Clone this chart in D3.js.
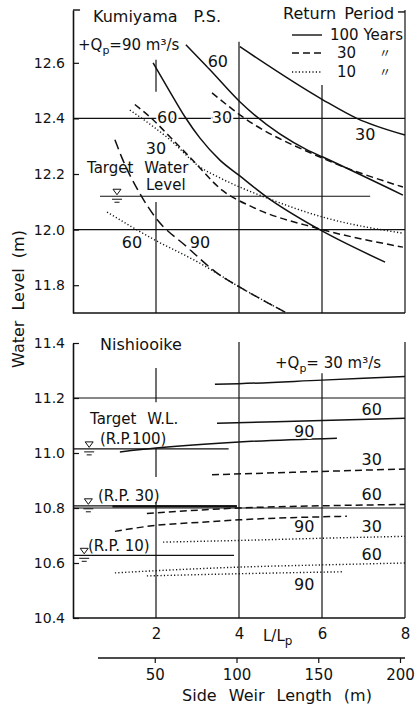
<!DOCTYPE html>
<html>
<head>
<meta charset="utf-8">
<script src="https://cdn.jsdelivr.net/npm/d3@7"></script>
<style>
  body { margin: 0; background: #fff; }
  svg text { font-family: "DejaVu Sans", sans-serif; fill: #111; }
</style>
</head>
<body>
<div id="chart"></div>
<script>
// Axis ticks
const ratioTicks = [2, 4, 6, 8];
const weirTicks = [50, 100, 150, 200];
const kumiTicks = [11.8, 12.0, 12.2, 12.4, 12.6];
const nishiTicks = [10.4, 10.6, 10.8, 11.0, 11.2, 11.4];

// Kumiyama P.S. curves, [L/Lp, water level (m)]
const kumiSolid30 = [[4.02, 12.658], [6.02, 12.467], [6.84, 12.40], [8, 12.34]];
const kumiSolid60 = [[2.72, 12.665], [3.30, 12.575], [4.02, 12.46], [5.64, 12.287], [6.02, 12.261], [7.95, 12.124]];
const kumiSolid90 = [[1.93, 12.6], [2.34, 12.495], [2.70, 12.405], [3.06, 12.329], [3.54, 12.25], [4.02, 12.193], [4.67, 12.117], [5.88, 12.005], [7.52, 11.883]];
const kumiDash30 = [[3.35, 12.492], [3.86, 12.431], [4.02, 12.413], [5.95, 12.261], [7.95, 12.153]];
const kumiDash60 = [[1.49, 12.45], [1.93, 12.395], [2.34, 12.333], [2.82, 12.26], [3.61, 12.14], [4.34, 12.08], [5.88, 12.005], [7.95, 11.937]];
const kumiDash90 = [[1.01, 12.323], [1.18, 12.258], [1.61, 12.13], [1.98, 12.045], [2.75, 11.937], [3.54, 11.836], [4.02, 11.793], [5.11, 11.703]];
const kumiDot30 = [[1.37, 12.43], [2.34, 12.323], [3.06, 12.225], [3.54, 12.186], [4.67, 12.114], [6.02, 12.045], [7.95, 11.987]];
const kumiDot60 = [[0.82, 12.063], [1.98, 11.962], [3.06, 11.879], [4.02, 11.793], [5.11, 11.703]];

// Nishiooike curves, [L/Lp, water level (m)]
const nishiSolid30 = [[3.42, 11.25], [4, 11.252], [6, 11.265], [8, 11.278]];
const nishiSolid60 = [[3.47, 11.108], [6, 11.118], [8, 11.126]];
const nishiSolid90 = [[1.13, 11.004], [2, 11.018], [4, 11.04], [6.36, 11.054]];
const nishiDash30 = [[3.35, 10.921], [6, 10.933], [8, 10.942]];
const nishiDash60 = [[1.78, 10.78], [4, 10.80], [6, 10.808], [8, 10.813]];
const nishiDash90 = [[1.01, 10.715], [2, 10.737], [3.06, 10.748], [4, 10.757], [6.6, 10.77]];
const nishiDot30 = [[2.17, 10.676], [4, 10.682], [6, 10.69], [8, 10.697]];
const nishiDot60 = [[1.01, 10.564], [2, 10.572], [4, 10.585], [6, 10.593], [8, 10.6]];
const nishiDot90 = [[1.78, 10.553], [4, 10.561], [6.48, 10.568]];

// Target water levels: [level, L start, L end]
const kumiTarget = [12.12, 0.65, 7.16];
const nishiTargets = [[11.015, 0, 3.75], [10.808, 0, 3.95], [10.628, 0, 3.88]];

// Curve labels: [text, L/Lp, level]
const kumiLabels = [["60", 3.49, 12.586], ["30", 3.59, 12.384], ["60", 2.27, 12.384], ["30", 2.0, 12.272],
                    ["30", 7.04, 12.323], ["60", 1.42, 11.933], ["90", 3.06, 11.933]];
const nishiLabels = [["60", 7.2, 11.138], ["90", 5.57, 11.058], ["30", 7.2, 10.956], ["60", 7.2, 10.829],
                     ["90", 5.57, 10.713], ["30", 7.2, 10.713], ["60", 7.2, 10.611], ["90", 5.57, 10.502]];

const dashes = { 100: null, 30: "7,4", 10: "1.2,2.2" };

const svg = d3.select("#chart").append("svg")
  .attr("width", 417).attr("height", 704);

// Scales
const x = d3.scaleLinear().domain([0, 8]).range([73, 405]);
const xWeir = d3.scaleLinear().domain([0, 200]).range([73, 400]);
const yKumi = d3.scaleLinear().domain([11.7, 12.79]).range([313, 10]);
const yNishi = d3.scaleLinear().domain([10.4, 11.4]).range([618, 343]);

function hLine(g, y, v, a, b, w) {
  g.append("line").attr("x1", x(a)).attr("x2", x(b)).attr("y1", y(v)).attr("y2", y(v))
    .attr("stroke", "#111").attr("stroke-width", w || 1.2);
}
function vLine(g, y, L, a, b) {
  g.append("line").attr("x1", x(L)).attr("x2", x(L)).attr("y1", y(a)).attr("y2", y(b))
    .attr("stroke", "#111").attr("stroke-width", 1.2);
}
// water surface mark (triangle and ripple lines)
function waterMark(g, y, L, v) {
  const cx = x(L), cy = y(v);
  g.append("path").attr("d", `M${cx - 4},${cy - 7}L${cx + 4},${cy - 7}L${cx},${cy - 1.5}Z`)
    .attr("fill", "none").attr("stroke", "#111").attr("stroke-width", 1);
  g.append("line").attr("x1", cx - 5).attr("x2", cx + 5).attr("y1", cy + 3).attr("y2", cy + 3).attr("stroke", "#111");
  g.append("line").attr("x1", cx - 2.5).attr("x2", cx + 2.5).attr("y1", cy + 6).attr("y2", cy + 6).attr("stroke", "#111");
}
function curves(g, y, series) {
  const line = d3.line().x(d => x(d[0])).y(d => y(d[1])).curve(d3.curveMonotoneX);
  g.selectAll(null).data(series).join("path")
    .attr("d", d => line(d.pts))
    .attr("fill", "none").attr("stroke", "#111")
    .attr("stroke-width", d => d.rp === 10 ? 1.4 : 1.5)
    .attr("stroke-dasharray", d => d.dash || dashes[d.rp]);
}
function labels(g, y, list) {
  g.selectAll(null).data(list).join("text")
    .attr("x", d => x(d[1])).attr("y", d => y(d[2]))
    .attr("text-anchor", "middle").style("font-size", "16px")
    .attr("stroke", "#fff").attr("stroke-width", 4).attr("paint-order", "stroke")
    .text(d => d[0]);
}
function yAxis(g, y, ticks) {
  const ax = g.append("g").attr("transform", `translate(${x(0)},0)`)
    .call(d3.axisLeft(y).tickValues(ticks).tickSizeInner(-6).tickSizeOuter(0).tickPadding(8).tickFormat(d3.format(".1f")));
  ax.select(".domain").attr("stroke", "#111").attr("stroke-width", 1.6);
  ax.selectAll(".tick line").attr("stroke", "#111").attr("stroke-width", 1.2);
  ax.selectAll("text").style("font-size", "14px").attr("fill", "#111");
}

// ---------- Kumiyama P.S. ----------
const upper = svg.append("g");
hLine(upper, yKumi, 12.4, 0, 8);
hLine(upper, yKumi, 12.0, 0, 8);
hLine(upper, yKumi, 11.7, 0, 8, 1.6);
hLine(upper, yKumi, kumiTarget[0], kumiTarget[1], kumiTarget[2]);
vLine(upper, yKumi, 2, 12.611, 12.496);
vLine(upper, yKumi, 2, 12.099, 11.7);
vLine(upper, yKumi, 4, 12.676, 11.7);
vLine(upper, yKumi, 6, 12.52, 11.7);
vLine(upper, yKumi, 8, 12.79, 11.7);
// corner brackets
hLine(upper, yKumi, 12.79, 0, 0.17, 1.4);
hLine(upper, yKumi, 12.783, 7.83, 8, 1.4);
yAxis(upper, yKumi, kumiTicks);

curves(upper, yKumi, [
  { pts: kumiSolid30, rp: 100 }, { pts: kumiSolid60, rp: 100 }, { pts: kumiSolid90, rp: 100 },
  { pts: kumiDash30, rp: 30 }, { pts: kumiDash60, rp: 30 }, { pts: kumiDash90, rp: 30, dash: "10,5" },
  { pts: kumiDot30, rp: 10 }, { pts: kumiDot60, rp: 10 }
]);
labels(upper, yKumi, kumiLabels);
waterMark(upper, yKumi, 1.06, kumiTarget[0]);

upper.append("text").attr("x", 93).attr("y", 22).style("font-size", "16px").style("word-spacing", "11px")
  .text("Kumiyama P.S.");
const qTop = upper.append("text").attr("x", 78).attr("y", 50).style("font-size", "15px");
qTop.append("tspan").text("+Q");
qTop.append("tspan").attr("dy", 4).style("font-size", "11px").text("p");
qTop.append("tspan").attr("dy", -4).text("=90 m³/s");
upper.append("text").attr("x", 87).attr("y", 173).style("font-size", "15px").style("word-spacing", "6px")
  .text("Target Water");
upper.append("text").attr("x", 146).attr("y", 190).style("font-size", "15px").text("Level");

// legend
const legend = upper.append("g");
legend.append("text").attr("x", 283).attr("y", 19).style("font-size", "16px").style("word-spacing", "3px")
  .text("Return Period");
const legendRows = [["100 Years", 100, 35], ["30", 30, 53], ["10", 10, 72]];
legendRows.forEach(([t, rp, ly], i) => {
  legend.append("line").attr("x1", 292).attr("x2", 322).attr("y1", ly).attr("y2", ly)
    .attr("stroke", "#111").attr("stroke-width", 1.4).attr("stroke-dasharray", dashes[rp]);
  legend.append("text").attr("x", i === 0 ? 330 : 337).attr("y", ly + 5).style("font-size", "15px").text(t);
  if (i > 0) legend.append("text").attr("x", 379).attr("y", ly + 5).style("font-size", "12px")
    .style("font-family", "Noto Sans CJK JP").text("〃");
});

// ---------- Nishiooike ----------
const lower = svg.append("g");
hLine(lower, yNishi, 11.2, 0, 8);
hLine(lower, yNishi, 10.8, 0, 8);
hLine(lower, yNishi, 10.4, 0, 8, 1.6);
nishiTargets.forEach(t => hLine(lower, yNishi, t[0], t[1], t[2]));
hLine(lower, yNishi, 10.806, 0.95, 3.95, 2.4);
vLine(lower, yNishi, 2, 11.309, 11.185);
vLine(lower, yNishi, 2, 11.018, 10.913);
vLine(lower, yNishi, 2, 10.822, 10.4);
vLine(lower, yNishi, 4, 11.404, 10.4);
vLine(lower, yNishi, 6, 11.29, 10.4);
vLine(lower, yNishi, 8, 11.404, 10.4);
yAxis(lower, yNishi, nishiTicks);

curves(lower, yNishi, [
  { pts: nishiSolid30, rp: 100 }, { pts: nishiSolid60, rp: 100 }, { pts: nishiSolid90, rp: 100 },
  { pts: nishiDash30, rp: 30 }, { pts: nishiDash60, rp: 30 }, { pts: nishiDash90, rp: 30 },
  { pts: nishiDot30, rp: 10 }, { pts: nishiDot60, rp: 10 }, { pts: nishiDot90, rp: 10 }
]);
labels(lower, yNishi, nishiLabels);
waterMark(lower, yNishi, 0.39, nishiTargets[0][0]);
waterMark(lower, yNishi, 0.37, nishiTargets[1][0]);
waterMark(lower, yNishi, 0.27, nishiTargets[2][0]);

lower.append("text").attr("x", 100).attr("y", 350).style("font-size", "16px").text("Nishiooike");
const qBot = lower.append("text").attr("x", 275).attr("y", 368).style("font-size", "15px");
qBot.append("tspan").text("+Q");
qBot.append("tspan").attr("dy", 4).style("font-size", "11px").text("p");
qBot.append("tspan").attr("dy", -4).text("= 30 m³/s");
lower.append("text").attr("x", 90).attr("y", 424).style("font-size", "15px").style("word-spacing", "6px").text("Target W.L.");
lower.append("text").attr("x", 100).attr("y", 444).style("font-size", "15px").text("(R.P.100)");
lower.append("text").attr("x", 98).attr("y", 501).style("font-size", "15px").text("(R.P. 30)");
lower.append("text").attr("x", 88).attr("y", 551).style("font-size", "15px").text("(R.P. 10)");

// ---------- X axes ----------
const xAx = svg.append("g").attr("transform", `translate(0,${yNishi(10.4)})`)
  .call(d3.axisBottom(x).tickValues(ratioTicks).tickSize(0).tickPadding(10));
xAx.select(".domain").remove();
xAx.selectAll("text").style("font-size", "15px").attr("fill", "#111");
const lp = svg.append("text").attr("x", 263).attr("y", 641).style("font-size", "15px");
lp.append("tspan").text("L/L");
lp.append("tspan").attr("dy", 4).style("font-size", "12px").text("p");

const wAx = svg.append("g").attr("transform", "translate(0,658)")
  .call(d3.axisBottom(xWeir).tickValues(weirTicks).tickSize(5).tickSizeOuter(0).tickPadding(6));
wAx.select(".domain").remove();
wAx.append("line").attr("x1", xWeir(15.3)).attr("x2", x(8)).attr("stroke", "#111").attr("stroke-width", 1.6);
wAx.selectAll(".tick line").attr("stroke", "#111").attr("stroke-width", 1.2);
wAx.selectAll("text").style("font-size", "15px").attr("fill", "#111");
svg.append("text").attr("x", 277).attr("y", 701).attr("text-anchor", "middle")
  .style("font-size", "16px").style("word-spacing", "7px").text("Side Weir Length (m)");

// Y title
svg.append("text").attr("transform", "translate(24,299) rotate(-90)").attr("text-anchor", "middle")
  .style("font-size", "16px").style("word-spacing", "5px").text("Water Level (m)");
</script>
</body>
</html>
